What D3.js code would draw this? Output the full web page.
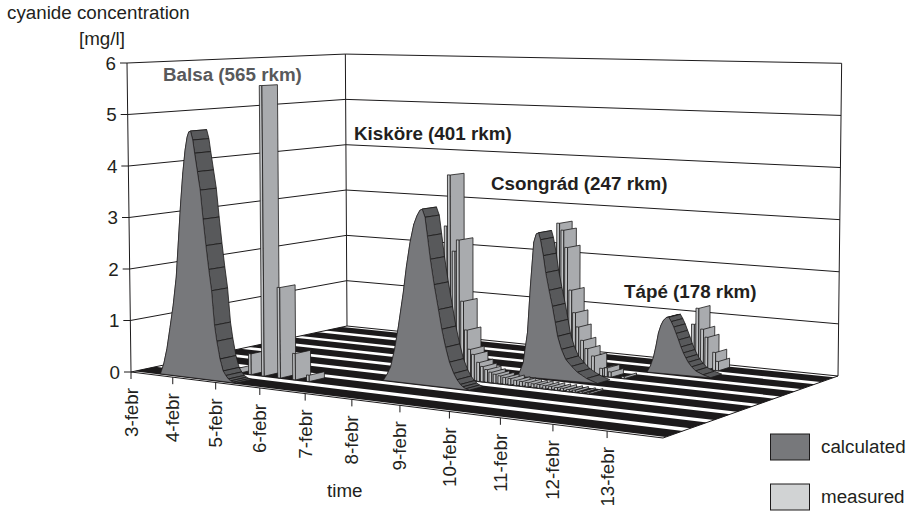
<!DOCTYPE html>
<html><head><meta charset="utf-8">
<style>html,body{margin:0;padding:0;background:#fff}svg{display:block}text{font-family:"Liberation Sans",Arial,sans-serif;fill:#231f20}</style>
<script src="https://cdn.jsdelivr.net/npm/d3@7/dist/d3.min.js"></script>
</head><body><svg id="c" width="907" height="511"></svg>
<script>
// ---------- data ----------
const dayLabels = ["3-febr","4-febr","5-febr","6-febr","7-febr","8-febr","9-febr","10-febr","11-febr","12-febr","13-febr"];
const valueTicks = [0,1,2,3,4,5,6];
const stations = ["Balsa (565 rkm)","Kisköre (401 rkm)","Csongrád (247 rkm)","Tápé (178 rkm)"];

// calculated: day offset from 3-febr, concentration
const calcBalsaT = [.58,.66,.74,.82,.90,.98,1.04,1.10,1.16,1.22,1.27,1.31,1.35,1.40,1.44,1.50,1.56,1.62,1.68,1.74,1.80,1.86,1.91,1.98,2.05,2.11,2.17,2.22,2.28,2.34];
const calcBalsaV = [0,.2,.5,.92,1.35,1.9,2.6,3.3,3.9,4.35,4.6,4.7,4.72,4.55,4.3,3.95,3.6,3.05,2.55,2.1,1.7,1.05,.75,.42,.2,.12,.06,.03,.01,0];
const calcKiskoreT = [4.37,4.45,4.53,4.62,4.70,4.81,4.88,4.96,5.04,5.11,5.17,5.22,5.28,5.33,5.39,5.47,5.56,5.63,5.71,5.79,5.88,5.95,6.02,6.07,6.13,6.2];
const calcKiskoreV = [0,.12,.27,.62,1.04,1.7,2.2,2.66,3.0,3.17,3.27,3.3,3.15,2.8,2.37,1.9,1.44,1.08,.75,.48,.28,.17,.09,.05,.02,0];
const calcCsongradT = [6.16,6.22,6.28,6.37,6.43,6.5,6.55,6.6,6.64,6.70,6.75,6.82,6.89,6.95,7.0,7.08,7.17,7.29,7.41,7.6,7.82];
const calcCsongradV = [0,.12,.27,.86,1.74,2.59,2.75,2.78,2.65,2.35,2.03,1.7,1.4,1.1,.84,.6,.42,.3,.2,.1,.03];
const calcTapeT = [7.91,7.98,8.04,8.09,8.14,8.19,8.24,8.3,8.35,8.40,8.45,8.5,8.55,8.6,8.65,8.7,8.75,8.82,8.9,9.05,9.2];
const calcTapeV = [0,.13,.3,.52,.78,.93,1.03,1.09,1.1,1.02,.92,.8,.68,.55,.44,.35,.27,.19,.12,.06,.02];

// measured samples
const measBalsaT = [1.74,2.02,2.32,2.69,3.03,3.34];
const measBalsaV = [.1,.4,5.58,1.73,.5,.12];
const measKiskoreT = [5.19,5.26,5.36,5.45,5.54,5.62,5.69,5.77,5.88,5.96,6.05,6.14,6.23,6.33,6.43,6.54,6.66,6.78,6.9,7.02,7.14,7.26,7.38,7.5,7.62,7.74,7.86,8.0,8.15];
const measKiskoreV = [2.9,3.88,2.43,2.65,1.49,.95,.59,.5,.36,.29,.24,.2,.17,.15,.13,.12,.1,.09,.08,.07,.07,.06,.06,.05,.05,.04,.04,.03,.03];
const measCsongradT = [6.48,6.54,6.63,6.71,6.8,6.88,6.95,7.05,7.14,7.28,7.45,7.55,7.63,7.9];
const measCsongradV = [2.5,2.88,2.75,2.42,1.6,1.17,.9,.65,.5,.37,.15,.17,.1,.04];
const measTapeT = [8.44,8.53,8.63,8.72,8.88,8.94];
const measTapeV = [.86,1.18,.78,.63,.35,.18];

// ---------- projection ----------
const P = [[131,372],[663,438],[838,376],[347,326]]; // floor corners
function homography(p){
  const [[x0,y0],[x1,y1],[x2,y2],[x3,y3]] = p;
  const dx1=x1-x2, dx2=x3-x2, sx=x0-x1+x2-x3, dy1=y1-y2, dy2=y3-y2, sy=y0-y1+y2-y3;
  const den=dx1*dy2-dx2*dy1, g=(sx*dy2-dx2*sy)/den, h=(dx1*sy-sx*dy1)/den;
  return {a:x1-x0+g*x1,b:x3-x0+h*x3,c:x0,d:y1-y0+g*y1,e:y3-y0+h*y3,f:y0,g,h};
}
const H = homography(P);
const uScale = d3.scaleLinear().domain([0,11]).range([0,1]);
const zScale = d3.scaleLinear().domain([0,8]).range([0,1]);
const vScale = d3.scaleLinear().domain([0,6]).range([0,309]);
const LEAN = 0.0018, LEAN_C = 500;
function pt(t,row,val){
  const u=uScale(t), z=zScale(row), w=H.g*u+H.h*z+1;
  const X=(H.a*u+H.b*z+H.c)/w, Y=(H.d*u+H.e*z+H.f)/w;
  return [X+(X-LEAN_C)*LEAN*val, Y-vScale(val)/w];
}
const svg = d3.select("#c");
const poly = pts => pts.map(p=>p.map(n=>n.toFixed(2)).join(",")).join(" ");
const INK="#1c1a1b", BAR="#a9abae", BARF="#bfc1c3", CALC="#77787b", RIB="#58595b";
const FS=18.8;
// positions inside a row, in row units
const BAND0=.1, BAND1=.8, RIB0=.18, RIB1=.72;

// ---------- walls ----------
const grid = svg.append("g").attr("fill","none").attr("stroke",INK).attr("stroke-width",1);
valueTicks.forEach(v=>{
  if(v>0) grid.append("polyline").attr("points",poly([pt(0,0,v),pt(0,8,v),pt(11,8,v)]));
  const a=pt(0,0,v);
  grid.append("line").attr("x1",a[0]-7).attr("y1",a[1]).attr("x2",a[0]).attr("y2",a[1]);
});
[[0,0],[0,8],[11,8]].forEach(([t,r])=>{
  const a=pt(t,r,0), b=pt(t,r,6);
  grid.append("line").attr("x1",a[0]).attr("y1",a[1]).attr("x2",b[0]).attr("y2",b[1]);
});
svg.append("g").selectAll("text").data(valueTicks).join("text")
  .attr("x",v=>pt(0,0,v)[0]-11).attr("y",v=>pt(0,0,v)[1]+6.5).attr("text-anchor","end")
  .attr("font-size",FS).text(v=>v);

// ---------- floor ----------
const floor = svg.append("g");
floor.append("polygon").attr("points",poly([pt(0,0,0),pt(11,0,0),pt(11,8,0),pt(0,8,0)]))
  .attr("fill","#fff").attr("stroke",INK).attr("stroke-width",1);
d3.range(8).forEach(i=>{
  floor.append("polygon").attr("points",poly([pt(0,i+BAND0,0),pt(11,i+BAND0,0),pt(11,i+BAND1,0),pt(0,i+BAND1,0)]))
    .attr("fill","#1c1a1b");
});

// ---------- ticks ----------
const tickG = svg.append("g");
dayLabels.forEach((d,i)=>{
  const a=pt(i,0,0);
  tickG.append("line").attr("x1",a[0]).attr("y1",a[1]).attr("x2",a[0]).attr("y2",a[1]+7).attr("stroke",INK);
  tickG.append("text").attr("transform",`translate(${a[0]+6.5},${a[1]+16}) rotate(-90)`)
    .attr("text-anchor","end").attr("font-size",FS).text(d);
});

// ---------- series ----------
function drawCalc(row,T,V){
  const g=svg.append("g").attr("stroke",INK).attr("stroke-width",.8).attr("stroke-linejoin","round");
  const z0=row+RIB0, z1=row+RIB1;
  d3.range(T.length-1).forEach(i=>{
    g.append("polygon").attr("fill",RIB)
      .attr("points",poly([pt(T[i],z0,V[i]),pt(T[i],z1,V[i]),pt(T[i+1],z1,V[i+1]),pt(T[i+1],z0,V[i+1])]));
  });
  g.append("polygon").attr("fill",CALC).attr("stroke-width",.6)
    .attr("points",poly(T.map((t,i)=>pt(t,z0,V[i]))));
}
function drawMeas(row,T,V){
  const g=svg.append("g").attr("stroke",INK).attr("stroke-width",.8).attr("stroke-linejoin","round");
  const z0=row+RIB0, z1=row+RIB1, dt=.06;
  T.forEach((t,i)=>{
    g.append("polygon").attr("fill",BARF)
      .attr("points",poly([pt(t-dt,z0,0),pt(t-dt,z0,V[i]),pt(t,z0,V[i]),pt(t,z0,0)]));
    g.append("polygon").attr("fill",BAR)
      .attr("points",poly([pt(t,z0,0),pt(t,z0,V[i]),pt(t,z1,V[i]),pt(t,z1,0)]));
  });
}
drawMeas(7,measTapeT,measTapeV);
drawCalc(6,calcTapeT,calcTapeV);
drawMeas(5,measCsongradT,measCsongradV);
drawCalc(4,calcCsongradT,calcCsongradV);
drawMeas(3,measKiskoreT,measKiskoreV);
drawCalc(2,calcKiskoreT,calcKiskoreV);
drawMeas(1,measBalsaT,measBalsaV);
drawCalc(0,calcBalsaT,calcBalsaV);

// ---------- text ----------
const labelPos=[[163,81,"#58595b"],[354,140,"#231f20"],[491,190,"#231f20"],[624,298,"#231f20"]];
stations.forEach((s,i)=>{
  svg.append("text").attr("x",labelPos[i][0]).attr("y",labelPos[i][1]).attr("font-weight","bold")
    .attr("font-size",FS).style("fill",labelPos[i][2]).text(s);
});
svg.append("text").attr("x",7).attr("y",19).attr("font-size",FS).text("cyanide concentration");
svg.append("text").attr("x",79).attr("y",45).attr("font-size",FS).text("[mg/l]");
svg.append("text").attr("x",327).attr("y",497).attr("font-size",FS).text("time");

// ---------- legend ----------
const legend=[["calculated",434,CALC],["measured",484,"#d1d3d4"]];
legend.forEach(([n,y,c])=>{
  svg.append("rect").attr("x",770.5).attr("y",y).attr("width",39).attr("height",26).attr("fill",c).attr("stroke",INK).attr("stroke-width",1);
  svg.append("text").attr("x",821).attr("y",y+19).attr("font-size",FS).text(n);
});
</script></body></html>
